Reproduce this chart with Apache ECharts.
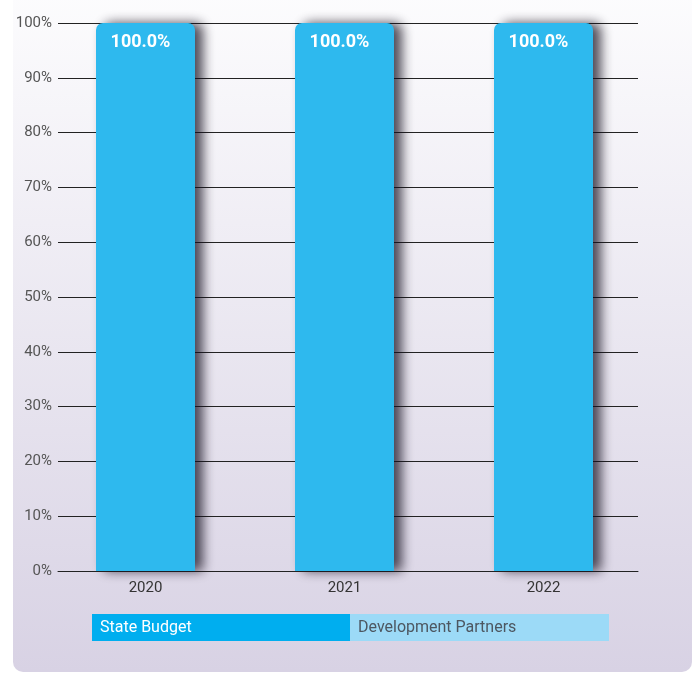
<!DOCTYPE html>
<html><head><meta charset="utf-8">
<script src="https://cdn.jsdelivr.net/npm/echarts@6/dist/echarts.min.js"></script>
<style>html,body{margin:0;padding:0;background:#fff}#c{width:697px;height:673px}</style>
</head><body><div id="c"></div>
<script>
const categories = ['2020', '2021', '2022'];
const stateBudget = [100, 100, 100];
const developmentPartners = [0, 0, 0];
const legendNames = ['State Budget', 'Development Partners'];
const yTicks = [0, 10, 20, 30, 40, 50, 60, 70, 80, 90, 100];

const font = '"Roboto", sans-serif';
const chart = echarts.init(document.getElementById('c'), null, {renderer: 'canvas'});
chart.setOption({
  animation: false,
  graphic: [
    {type: 'rect', z: -10, shape: {x: 13, y: -20, width: 679, height: 692, r: 10},
     style: {fill: new echarts.graphic.LinearGradient(0, 0, 0, 1, [
       {offset: 0, color: '#fdfdfe'}, {offset: 1, color: '#d8d2e4'}])}},
    {type: 'rect', shape: {x: 92, y: 614, width: 258, height: 27},
     style: {fill: '#00aeef'}},
    {type: 'rect', shape: {x: 350, y: 614, width: 259, height: 27},
     style: {fill: '#9cdaf7'}},
    {type: 'text', x: 100, y: 628, style: {text: legendNames[0], fill: '#ffffff', font: '16px ' + font, verticalAlign: 'middle'}},
    {type: 'text', x: 358, y: 628, style: {text: legendNames[1], fill: '#4d5761', font: '16px ' + font, verticalAlign: 'middle'}}
  ],
  grid: [
    {left: 46, right: 54, top: 23, bottom: 102},
    {left: 58, right: 59, top: 23, bottom: 102}
  ],
  xAxis: [
    {type: 'category', gridIndex: 0, data: categories,
     axisLine: {show: false}, axisTick: {show: false},
     axisLabel: {color: '#333', fontSize: 15, fontFamily: font, margin: 10}},
    {type: 'category', gridIndex: 1, data: categories, show: true,
     axisLine: {show: true, lineStyle: {color: '#222', width: 1}}, axisTick: {show: false},
     axisLabel: {show: false}}
  ],
  yAxis: [
    {type: 'value', gridIndex: 0, min: 0, max: 100, interval: 10, show: false, splitLine: {show: false}},
    {type: 'value', gridIndex: 1, min: 0, max: 100, interval: 10,
     axisLine: {show: false}, axisTick: {show: false},
     splitLine: {show: true, lineStyle: {color: '#222', width: 1}},
     axisLabel: {color: '#555', fontSize: 15, fontFamily: font, margin: 6,
       formatter: v => yTicks.includes(v) ? v + '%' : ''}}
  ],
  series: [
    {name: legendNames[0], type: 'bar', xAxisIndex: 0, yAxisIndex: 0, stack: 's',
     data: stateBudget, barWidth: 99, z: 5,
     itemStyle: {color: '#2eb9ee', borderRadius: [7, 7, 0, 0],
       shadowColor: 'rgba(20,15,30,0.75)', shadowBlur: 12, shadowOffsetX: 8, shadowOffsetY: 0},
     label: {show: true, position: 'insideTop', distance: 10, offset: [-5, 0],
       color: '#fff', fontWeight: 'bold', fontSize: 18, fontFamily: font,
       formatter: p => p.value.toFixed(1) + '%'}},
    {name: legendNames[1], type: 'bar', xAxisIndex: 0, yAxisIndex: 0, stack: 's',
     data: developmentPartners, barWidth: 99, itemStyle: {color: '#9cdaf7'}}
  ]
});
</script></body></html>
